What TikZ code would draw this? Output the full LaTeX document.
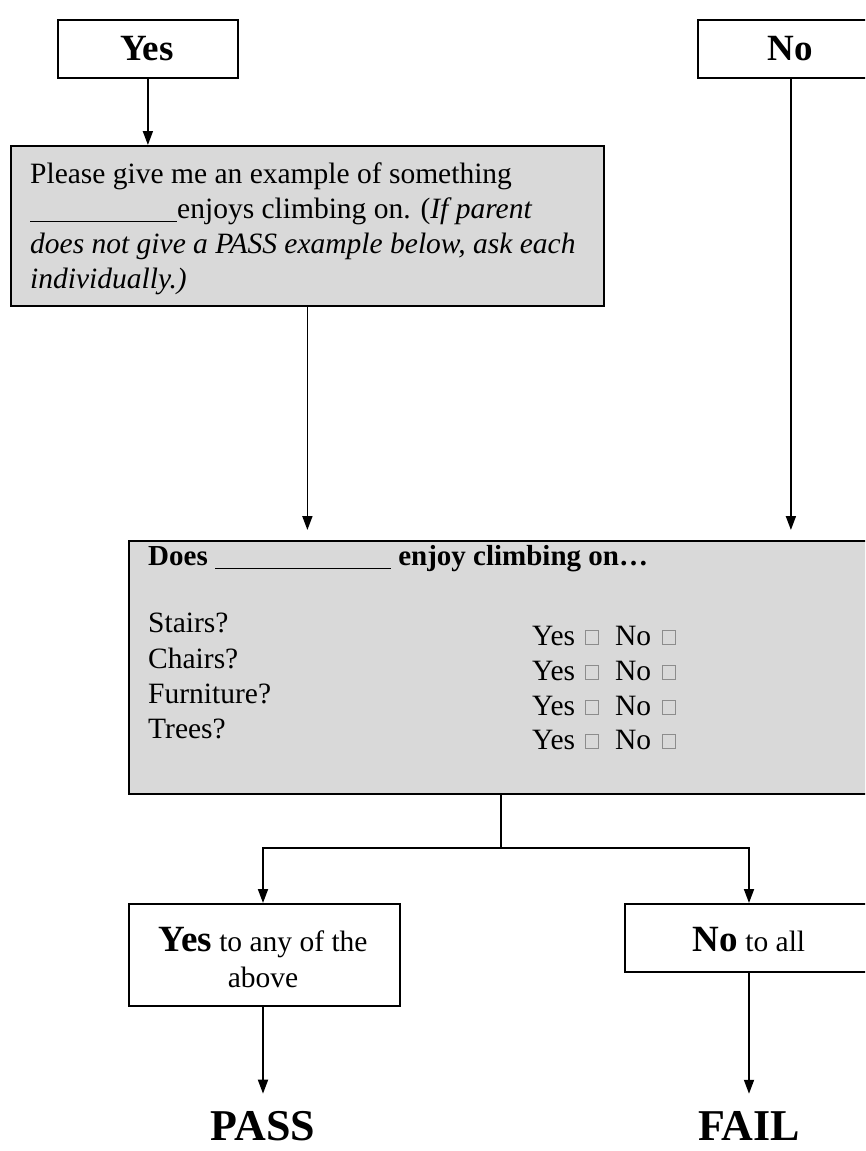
\documentclass[tikz,border=0pt]{standalone}
\usepackage{fontspec}
\setmainfont{Liberation Serif}
\usetikzlibrary{arrows.meta}
\definecolor{panelgray}{RGB}{217,217,217}
\definecolor{tickgray}{RGB}{140,140,140}
% small empty check box
\newcommand\tickbox{{\color{tickgray}\setlength\fboxsep{0pt}\setlength\fboxrule{1pt}\raisebox{1pt}{\fbox{\rule{0pt}{13pt}\rule{12pt}{0pt}}}}}
\begin{document}
\begin{tikzpicture}[x=1pt,y=-1pt,
  frame/.style={draw, line width=1.8pt, inner sep=0pt, fill=white},
  panel/.style={draw, line width=1.8pt, inner sep=0pt, fill=panelgray},
  link/.style={line width=1.8pt, -{Triangle[length=14pt,width=10pt]}},
  wire/.style={line width=1.8pt},
  body/.style={font=\fontsize{29.5}{35}\selectfont, inner sep=0pt},
  bodybold/.style={font=\bfseries\fontsize{29}{35}\selectfont, inner sep=0pt},
  head/.style={font=\bfseries\fontsize{37}{40}\selectfont, inner sep=0pt},
  verdict/.style={font=\bfseries\fontsize{44}{48}\selectfont, inner sep=0pt}]
\useasboundingbox (0,0) rectangle (865,1151);
\clip (0,0) rectangle (865,1151);

% top answers
\node[frame, minimum width=180pt, minimum height=58pt, anchor=north west] (yes) at (57,19) {};
\node[head, anchor=base] (yeslbl) at (147,60) {Yes};
\node[frame, minimum width=186pt, minimum height=58pt, anchor=north west] (no) at (697,19) {};
\node[head, anchor=base] (nolbl) at (790,60) {No};

% example question
\node[panel, minimum width=593pt, minimum height=160pt, anchor=north west] (q1) at (10,145) {};
\node[body, anchor=base west] (q1a) at (30,183) {Please give me an example of something};
\node[body, anchor=base west] (q1b) at (30,218) {\rule[-4pt]{147pt}{1.2pt}enjoys climbing on. (\textit{If parent}};
\node[body, anchor=base west] (q1c) at (30,253) {\textit{does not give a PASS example below, ask each}};
\node[body, anchor=base west] (q1d) at (30,288) {\textit{individually.)}};

% checklist
\node[panel, minimum width=746pt, minimum height=253pt, anchor=north west] (q2) at (128,540) {};
\node[bodybold, anchor=base west] (q2head) at (148,565) {Does \rule[-4pt]{176pt}{1.2pt} enjoy climbing on…};
\node[body, anchor=base west] (stairs) at (148,632) {Stairs?};
\node[body, anchor=base west] (chairs) at (148,668) {Chairs?};
\node[body, anchor=base west] (furniture) at (148,703) {Furniture?};
\node[body, anchor=base west] (trees) at (148,738) {Trees?};
\node[body, anchor=base west] (r1) at (532,645) {Yes\hspace{10pt}\tickbox\hspace{16pt}No\hspace{11pt}\tickbox};
\node[body, anchor=base west] (r2) at (532,680) {Yes\hspace{10pt}\tickbox\hspace{16pt}No\hspace{11pt}\tickbox};
\node[body, anchor=base west] (r3) at (532,715) {Yes\hspace{10pt}\tickbox\hspace{16pt}No\hspace{11pt}\tickbox};
\node[body, anchor=base west] (r4) at (532,749) {Yes\hspace{10pt}\tickbox\hspace{16pt}No\hspace{11pt}\tickbox};

% outcomes
\node[frame, minimum width=271pt, minimum height=102pt, anchor=north west] (anyyes) at (128,903) {};
\node[body, anchor=base] (anyyesa) at (263,951) {{\bfseries\fontsize{37}{40}\selectfont Yes} to any of the};
\node[body, anchor=base] (anyyesb) at (263,987) {above};
\node[frame, minimum width=256pt, minimum height=68pt, anchor=north west] (allno) at (624,903) {};
\node[body, anchor=base] (allnolbl) at (749,951) {{\bfseries\fontsize{37}{40}\selectfont No} to all};

\node[verdict, anchor=base] (pass) at (263,1140) {PASS};
\node[verdict, anchor=base] (fail) at (749,1140) {FAIL};

% connectors
\draw[link] (yes.south) -- (q1.north -| yes.south);
\draw[link, shorten >=10pt] (q1.south) -- (q1.south |- q2.north);
\draw[link, shorten >=10pt] (no.south) -- (no.south |- q2.north);
\coordinate (fork) at (501,848);
\draw[wire] (fork |- q2.south) -- (fork);
\draw[link] (fork) -| (anyyes.north -| pass.north);
\draw[link] (fork) -| (allno.north -| fail.north);
\draw[link, shorten >=17pt] (anyyes.south -| pass.north) -- (pass.north);
\draw[link, shorten >=17pt] (allno.south -| fail.north) -- (fail.north);
\end{tikzpicture}
\end{document}
